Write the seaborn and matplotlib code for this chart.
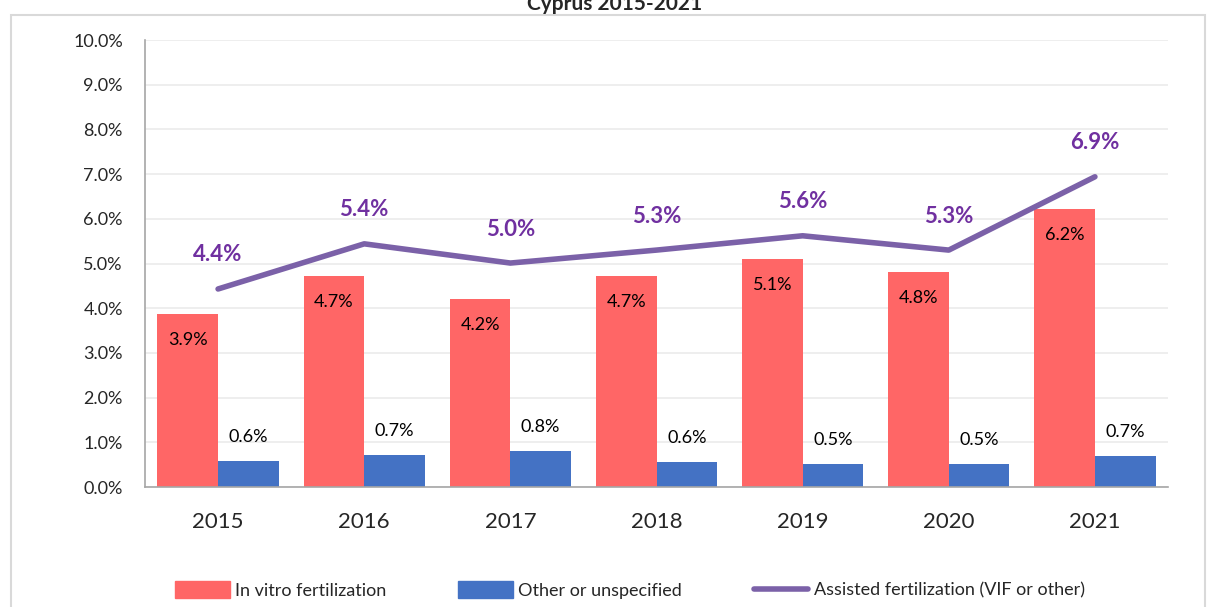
import numpy as np
import pandas as pd
import matplotlib
matplotlib.use("Agg")
import matplotlib.pyplot as plt
import matplotlib.patches as mpatches
import seaborn as sns

# -------------------------------
# Data
# -------------------------------
years = ["2015", "2016", "2017", "2018", "2019", "2020", "2021"]
ivf = [3.86, 4.72, 4.2, 4.72, 5.1, 4.8, 6.22]
other = [0.58, 0.72, 0.8, 0.56, 0.51, 0.51, 0.69]
assisted = [4.43, 5.44, 5.01, 5.3, 5.62, 5.3, 6.94]
series_names = ["In vitro fertilization", "Other or unspecified",
                "Assisted fertilization (VIF or other)"]
colors = ["#FF6666", "#4472C4", "#7B61A8"]

df = pd.DataFrame({
    "year": years * 2,
    "value": ivf + other,
    "series": [series_names[0]] * len(years) + [series_names[1]] * len(years),
})

# -------------------------------
# Plot
# -------------------------------
sns.set_theme(style="white")
plt.rcParams["font.family"] = ["Lato", "DejaVu Sans"]

fig = plt.figure(figsize=(12.08, 6.07), dpi=100)
ax = fig.add_axes([145 / 1208, 1 - 487 / 607, 1023 / 1208, 447 / 607])

sns.barplot(data=df, x="year", y="value", hue="series", order=years,
            hue_order=series_names[:2], palette=colors[:2], width=0.83,
            gap=0, saturation=1, linewidth=0, ax=ax, legend=False)

x = np.arange(len(years))
sns.lineplot(x=x, y=assisted, color=colors[2], linewidth=4, ax=ax,
             solid_capstyle="round")

# bar labels
for bar, v in zip(ax.containers[0], ivf):
    ax.annotate(f"{v:.1f}%", (bar.get_x() + bar.get_width() / 2, v),
                xytext=(0, -26), textcoords="offset pixels",
                ha="center", va="center", fontsize=13, color="black")
for bar, v in zip(ax.containers[1], other):
    ax.annotate(f"{v:.1f}%", (bar.get_x() + bar.get_width() / 2, v),
                xytext=(0, 24), textcoords="offset pixels",
                ha="center", va="center", fontsize=13, color="black")
for xi, v in zip(x, assisted):
    ax.annotate(f"{v:.1f}%", (xi, v), xytext=(0, 34), textcoords="offset pixels",
                ha="center", va="center", fontsize=16, fontweight="bold",
                color="#7030A0")

ax.set_xlim(-0.5, len(years) - 0.5)
ax.set_ylim(0, 10)
ax.set_yticks(np.arange(0, 11, 1))
ax.set_yticklabels([f"{t:.1f}%" for t in range(11)], fontsize=13)
ax.tick_params(axis="x", labelsize=16, pad=18, length=0)
ax.tick_params(axis="y", pad=16, length=0)
ax.set_xlabel("")
ax.set_ylabel("")
ax.yaxis.grid(True, color="#EBEBEB", linewidth=1.2)
ax.set_axisbelow(True)
for s in ["top", "right"]:
    ax.spines[s].set_visible(False)
for s in ["left", "bottom"]:
    ax.spines[s].set_color("#A6A6A6")
    ax.spines[s].set_linewidth(1.2)

# title (sits at the very top edge, like the reference)
fig.text(615 / 1208, 1 - 4 / 607, "Cyprus 2015-2021", ha="center", va="center",
         fontsize=15, fontweight="bold")

# chart border
fig.patches.append(mpatches.Rectangle((11 / 1208, -0.05), 1194 / 1208, 1.05 - 15 / 607,
                                      transform=fig.transFigure, fill=False,
                                      edgecolor="#D9D9D9", linewidth=1.5))

handles = [mpatches.Patch(color=colors[0], label=series_names[0]),
           mpatches.Patch(color=colors[1], label=series_names[1]),
           plt.Line2D([], [], color=colors[2], linewidth=4, label=series_names[2])]
fig.legend(handles=handles, loc="center", bbox_to_anchor=(630 / 1208, 1 - 590 / 607),
           ncol=3, frameon=False, fontsize=13, handlelength=3.0, handleheight=1.0,
           columnspacing=4.0, handletextpad=0.3)

fig.savefig("out.png", dpi=100)
